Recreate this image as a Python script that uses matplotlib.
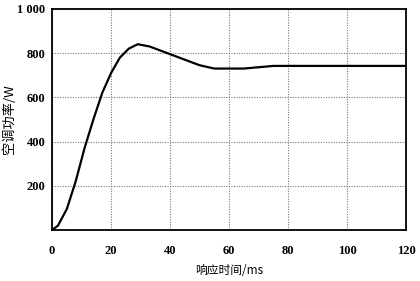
import matplotlib
matplotlib.use("Agg")
import matplotlib.pyplot as plt

t = [0, 2, 5, 8, 11, 14, 17, 20, 23, 26, 29, 33, 37, 40, 45, 50, 55, 65, 75, 120]
p = [0, 20, 95, 220, 370, 500, 620, 710, 780, 820, 840, 830, 810, 795, 770, 745, 730, 730, 742, 742]
xticks = [0, 20, 40, 60, 80, 100, 120]
yticks = [200, 400, 600, 800, 1000]
ytick_labels = ["200", "400", "600", "800", "1 000"]

fig = plt.figure(figsize=(4.2, 2.81), dpi=100)
ax = fig.add_axes([0.124, 0.1815, 0.843, 0.787])
ax.plot(t, p, color="black", lw=1.6)
ax.set_xlim(0, 120)
ax.set_ylim(0, 1000)
ax.set_xticks(xticks)
ax.set_yticks(yticks)
ax.set_yticklabels(ytick_labels)
for s in ax.spines.values():
    s.set_linewidth(1.3)
ax.grid(True, linestyle=(0, (1, 1.3)), color="#777777", lw=0.8)
ax.tick_params(axis="x", length=0, pad=11, labelsize=9)
ax.tick_params(axis="y", length=0, pad=5, labelsize=9)
for lab in ax.get_xticklabels() + ax.get_yticklabels():
    lab.set_family("Liberation Serif")
    lab.set_fontweight("bold")
ax.set_xlabel("响应时间/ms", family=["Noto Sans CJK SC", "DejaVu Sans"], fontsize=8.5, labelpad=5)
ax.set_ylabel("空调功率/W", family=["Noto Sans CJK SC", "DejaVu Sans"], fontsize=9.5)
ax.yaxis.set_label_coords(-0.103, 0.50)
fig.savefig("out.png", dpi=100)
